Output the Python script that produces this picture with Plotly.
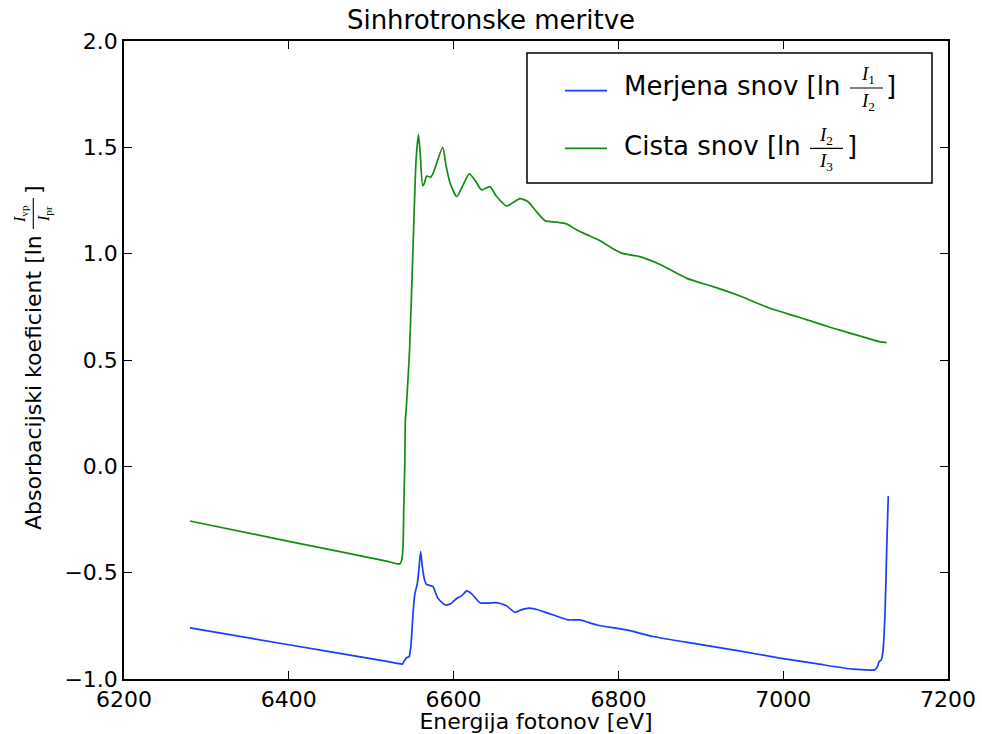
import plotly.graph_objects as go

# ---------------- data ----------------
energy_meas = [6280, 6400, 6510, 6530, 6538, 6540, 6543, 6546, 6548, 6549.5, 6551, 6553, 6556,
               6558, 6560, 6562, 6564.5, 6567, 6571, 6575, 6581, 6590, 6597, 6604, 6610, 6616,
               6622, 6632, 6642, 6652, 6664, 6674.5, 6682, 6691, 6700, 6709, 6721, 6739, 6753,
               6774, 6810, 6842, 6895, 6950, 6996, 7040, 7085, 7105, 7111, 7114, 7116.5, 7119,
               7121, 7123.5, 7125.7, 7127.5]
absorb_meas = [-0.76, -0.839, -0.911, -0.925, -0.93, -0.915, -0.90, -0.895, -0.85, -0.77, -0.68,
               -0.60, -0.55, -0.48, -0.401, -0.47, -0.53, -0.555, -0.56, -0.566, -0.62, -0.652,
               -0.645, -0.62, -0.608, -0.586, -0.60, -0.641, -0.643, -0.641, -0.656, -0.686,
               -0.675, -0.667, -0.672, -0.683, -0.699, -0.722, -0.722, -0.746, -0.769, -0.80,
               -0.835, -0.87, -0.902, -0.928, -0.954, -0.958, -0.957, -0.945, -0.918, -0.91,
               -0.871, -0.70, -0.378, -0.14]

energy_pure = [6280, 6400, 6520, 6530, 6535, 6537, 6538.6, 6539.5, 6540.7, 6541.5, 6542.6, 6546.6,
               6550.6, 6554.5, 6557.3, 6559.5, 6562.5, 6564.5, 6567.2, 6572.3, 6575.4, 6586.8,
               6591, 6596, 6603.8, 6610, 6619, 6626, 6634, 6644, 6652, 6664.4, 6672, 6680.6,
               6690, 6700, 6711, 6725, 6737, 6748, 6759.5, 6777.7, 6795, 6806, 6826, 6850, 6883,
               6915, 6947.6, 6984, 7020, 7060.8, 7100, 7118, 7125.6]
absorb_pure = [-0.257, -0.353, -0.447, -0.457, -0.458, -0.44, -0.38, -0.20, 0.0, 0.22, 0.275,
               0.55, 1.01, 1.443, 1.56, 1.47, 1.32, 1.33, 1.365, 1.36, 1.38, 1.50, 1.41, 1.33,
               1.268, 1.31, 1.375, 1.345, 1.30, 1.315, 1.27, 1.224, 1.24, 1.259, 1.245, 1.20,
               1.155, 1.148, 1.14, 1.115, 1.093, 1.061, 1.02, 1.0, 0.986, 0.95, 0.884, 0.845,
               0.801, 0.743, 0.70, 0.649, 0.605, 0.585, 0.582]

x_ticks = [6200, 6400, 6600, 6800, 7000, 7200]
y_ticks = [-1.0, -0.5, 0.0, 0.5, 1.0, 1.5, 2.0]

BLUE = "#1a3cff"
GREEN = "#148c14"

# ---------------- layout helpers ----------------
W, H = 982, 734
L, R, T, B = 124, 948, 41, 679


def px(x):
    return (x - L) / (R - L)


def py(y):
    return (B - y) / (B - T)


fig = go.Figure()
fig.add_trace(go.Scatter(x=energy_meas, y=absorb_meas, mode="lines", name="Merjena snov",
                         line=dict(color=BLUE, width=1.7, shape="spline", smoothing=0.6),
                         showlegend=False))
fig.add_trace(go.Scatter(x=energy_pure, y=absorb_pure, mode="lines", name="Cista snov",
                         line=dict(color=GREEN, width=1.7, shape="spline", smoothing=0.6),
                         showlegend=False))

axis_common = dict(showgrid=False, zeroline=False, showline=True, linecolor="black",
                   linewidth=1.5, mirror="allticks", ticks="inside", ticklen=8,
                   tickwidth=1.2, tickcolor="black",
                   tickfont=dict(family="DejaVu Sans", size=22, color="black"))

fig.update_xaxes(range=[6200, 7200], tickvals=x_ticks, ticktext=[str(v) for v in x_ticks],
                 title=dict(text="Energija fotonov [eV]", standoff=8,
                            font=dict(family="DejaVu Sans", size=22, color="black")),
                 **axis_common)
fig.update_yaxes(range=[-1.0, 2.0], tickvals=y_ticks,
                 ticktext=[("\u2212" if v < 0 else "") + f"{abs(v):.1f}" for v in y_ticks],
                 **axis_common)

text_font = dict(family="DejaVu Sans", size=26, color="black")
ylab_font = dict(family="DejaVu Sans", size=22, color="black")
math_font = dict(family="Liberation Serif", size=19, color="black")
math_font_y = dict(family="Liberation Serif", size=16, color="black")

ann = []
shapes = []

# ---- manual legend (fractions need stacked math) ----
shapes.append(dict(type="rect", xref="paper", yref="paper", x0=px(527), x1=px(932),
                   y0=py(183), y1=py(53), line=dict(color="black", width=1.5),
                   fillcolor="white", layer="above"))
shapes.append(dict(type="line", xref="paper", yref="paper", x0=px(565), x1=px(607),
                   y0=py(90.7), y1=py(90.7), line=dict(color=BLUE, width=1.7)))
shapes.append(dict(type="line", xref="paper", yref="paper", x0=px(565), x1=px(607),
                   y0=py(148.3), y1=py(148.3), line=dict(color=GREEN, width=1.7)))

ann.append(dict(text="Merjena snov [ln", x=px(622), y=py(86), xanchor="left", yanchor="middle",
                font=text_font))
shapes.append(dict(type="line", xref="paper", yref="paper", x0=px(850), x1=px(883),
                   y0=py(88), y1=py(88), line=dict(color="black", width=1.2)))
ann.append(dict(text="<i>I</i><sub>1</sub>", x=px(868), y=py(75), xanchor="center",
                yanchor="middle", font=math_font))
ann.append(dict(text="<i>I</i><sub>2</sub>", x=px(868), y=py(102), xanchor="center",
                yanchor="middle", font=math_font))
ann.append(dict(text="]", x=px(884), y=py(86), xanchor="left", yanchor="middle", font=text_font))

ann.append(dict(text="Cista snov [ln", x=px(622), y=py(145.5), xanchor="left", yanchor="middle",
                font=text_font))
shapes.append(dict(type="line", xref="paper", yref="paper", x0=px(810), x1=px(843),
                   y0=py(148.3), y1=py(148.3), line=dict(color="black", width=1.2)))
ann.append(dict(text="<i>I</i><sub>2</sub>", x=px(826), y=py(136), xanchor="center",
                yanchor="middle", font=math_font))
ann.append(dict(text="<i>I</i><sub>3</sub>", x=px(826), y=py(162), xanchor="center",
                yanchor="middle", font=math_font))
ann.append(dict(text="]", x=px(845), y=py(145.5), xanchor="left", yanchor="middle",
                font=text_font))

# ---- y axis label (rotated, with stacked fraction) ----
ann.append(dict(text="Absorbacijski koeficient [ln", x=px(33), y=py(383), xanchor="center",
                yanchor="middle", textangle=-90, font=ylab_font))
shapes.append(dict(type="line", xref="paper", yref="paper", x0=px(33.3), x1=px(33.3),
                   y0=py(229), y1=py(198), line=dict(color="black", width=1.1)))
ann.append(dict(text="<i>I</i><sub>vp</sub>", x=px(20), y=py(214), xanchor="center",
                yanchor="middle", textangle=-90, font=math_font_y))
ann.append(dict(text="<i>I</i><sub>pr</sub>", x=px(44), y=py(214), xanchor="center",
                yanchor="middle", textangle=-90, font=math_font_y))
ann.append(dict(text="]", x=px(33), y=py(190), xanchor="center", yanchor="middle",
                textangle=-90, font=ylab_font))

for a in ann:
    a.update(xref="paper", yref="paper", showarrow=False)

fig.update_layout(
    width=W, height=H,
    margin=dict(l=L, r=W - R, t=T, b=H - B, autoexpand=False),
    paper_bgcolor="white", plot_bgcolor="white",
    title=dict(text="Sinhrotronske meritve", x=px(536), xanchor="center",
               y=(H - 20) / H, yanchor="middle", yref="container",
               font=dict(family="DejaVu Sans", size=26, color="black")),
    annotations=ann, shapes=shapes, showlegend=False,
)

fig.write_html("out.html")
